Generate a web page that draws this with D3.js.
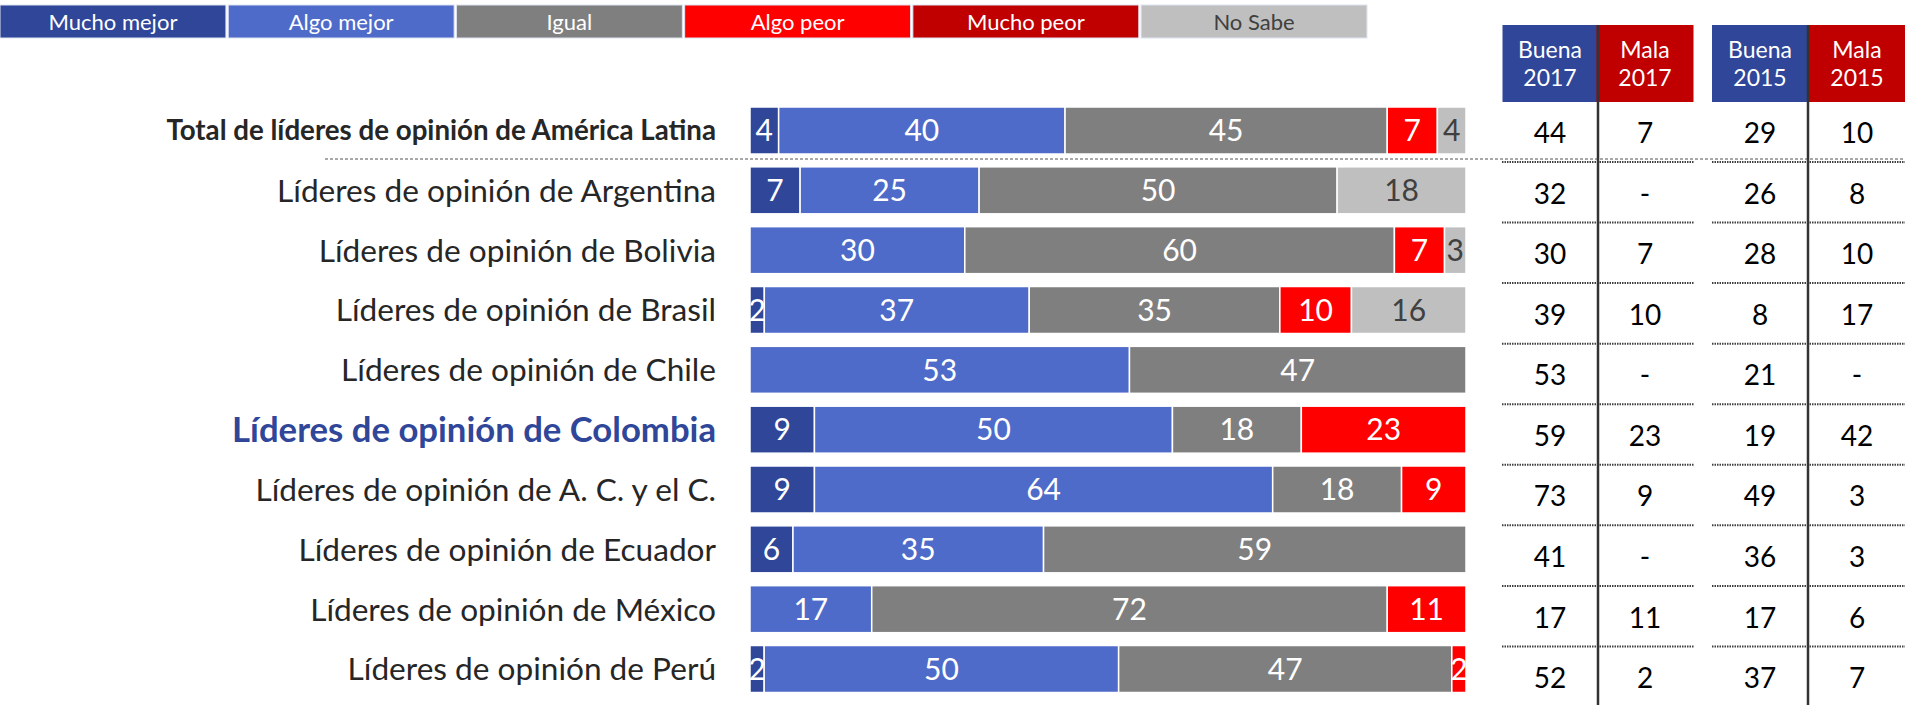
<!DOCTYPE html>
<html>
<head>
<meta charset="utf-8">
<script src="https://cdn.jsdelivr.net/npm/d3@7"></script>
<style>
  body { margin: 0; background: #fff; }
  svg text { font-family: Lato, "Open Sans", sans-serif; }
</style>
</head>
<body>
<div id="chart"></div>
<script>
// categories (rows)
var rows = [
  "Total de líderes de opinión de América Latina",
  "Líderes de opinión de Argentina",
  "Líderes de opinión de Bolivia",
  "Líderes de opinión de Brasil",
  "Líderes de opinión de Chile",
  "Líderes de opinión de Colombia",
  "Líderes de opinión de A. C. y el C.",
  "Líderes de opinión de Ecuador",
  "Líderes de opinión de México",
  "Líderes de opinión de Perú"
];

// series
var series = ["Mucho mejor", "Algo mejor", "Igual", "Algo peor", "Mucho peor", "No Sabe"];
var muchoMejor = [4, 7, 0, 2, 0, 9, 9, 6, 0, 2];
var algoMejor  = [40, 25, 30, 37, 53, 50, 64, 35, 17, 50];
var igual      = [45, 50, 60, 35, 47, 18, 18, 59, 72, 47];
var algoPeor   = [7, 0, 7, 10, 0, 23, 9, 0, 11, 2];
var muchoPeor  = [0, 0, 0, 0, 0, 0, 0, 0, 0, 0];
var noSabe     = [4, 18, 3, 16, 0, 0, 0, 0, 0, 0];

// side table
var tableHeads = [["Buena", "2017"], ["Mala", "2017"], ["Buena", "2015"], ["Mala", "2015"]];
var buena2017 = [44, 32, 30, 39, 53, 59, 73, 41, 17, 52];
var mala2017  = [7, "-", 7, 10, "-", 23, 9, "-", 11, 2];
var buena2015 = [29, 26, 28, 8, 21, 19, 49, 36, 17, 37];
var mala2015  = [10, 8, 10, 17, "-", 42, 3, 3, 6, 7];

var colors = {
  "Mucho mejor": "#2F4699",
  "Algo mejor": "#4F6BC9",
  "Igual": "#7F7F7F",
  "Algo peor": "#FF0000",
  "Mucho peor": "#C00000",
  "No Sabe": "#BFBFBF"
};
var darkText = "#404040";

var width = 1905, height = 705;
var svg = d3.select("#chart").append("svg")
  .attr("width", width)
  .attr("height", height);

// ---- legend
var lx = d3.scaleBand().domain(series).range([0, 1367]).paddingInner(0.01);
var leg = svg.append("g").selectAll("g")
  .data(series).enter().append("g")
  .attr("transform", function(d) { return "translate(" + lx(d) + ",5)"; });
leg.append("rect")
  .attr("width", lx.bandwidth())
  .attr("height", 33)
  .attr("fill", function(d) { return colors[d]; })
  .attr("stroke", "#dfe4f2")
  .attr("stroke-width", 1);
leg.append("text")
  .attr("x", lx.bandwidth() / 2)
  .attr("y", 17)
  .attr("dy", "0.35em")
  .attr("text-anchor", "middle")
  .style("font-size", "22px")
  .attr("fill", function(d) { return d == "No Sabe" ? darkText : "#fff"; })
  .text(function(d) { return d; });

// ---- stacked bars (100%)
var values = [muchoMejor, algoMejor, igual, algoPeor, muchoPeor, noSabe];
var data = rows.map(function(r, i) {
  var o = { row: r };
  series.forEach(function(s, k) { o[s] = values[k][i]; });
  return o;
});

var stack = d3.stack().keys(series).offset(d3.stackOffsetExpand);
var layers = stack(data);

var x = d3.scaleLinear().domain([0, 1]).range([750, 1466]);
var y = d3.scalePoint().domain(rows).range([130.5, 669]);
var barH = 47;

var layer = svg.append("g").selectAll("g")
  .data(layers).enter().append("g")
  .attr("fill", function(d) { return colors[d.key]; });

layer.selectAll("rect")
  .data(function(d) { return d.map(function(p) { p.key = d.key; return p; }); })
  .enter().filter(function(p) { return p.data[p.key] > 0; })
  .append("rect")
  .attr("x", function(p) { return x(p[0]); })
  .attr("y", function(p) { return y(p.data.row) - barH / 2; })
  .attr("width", function(p) { return x(p[1]) - x(p[0]); })
  .attr("height", barH)
  .attr("stroke", "#fff")
  .attr("stroke-width", 1.5);

layer.selectAll("text")
  .data(function(d) { return d.filter(function(p) { return p.data[d.key] > 0; }); })
  .enter().append("text")
  .attr("x", function(p) { return (x(p[0]) + x(p[1])) / 2; })
  .attr("y", function(p) { return y(p.data.row); })
  .attr("dy", "0.36em")
  .attr("text-anchor", "middle")
  .style("font-size", "30px")
  .attr("fill", function(p) { return p.key == "No Sabe" ? darkText : "#fff"; })
  .text(function(p) { return p.data[p.key]; });

// ---- row labels
svg.append("g").selectAll("text")
  .data(rows).enter().append("text")
  .attr("x", 716)
  .attr("y", function(d) { return y(d); })
  .attr("dy", "0.36em")
  .attr("text-anchor", "end")
  .style("font-size", function(d, i) { return i == 0 ? "27.7px" : (i == 5 ? "34.7px" : "31.6px"); })
  .style("font-weight", function(d, i) { return (i == 0 || i == 5) ? "bold" : "normal"; })
  .attr("fill", function(d, i) { return i == 5 ? "#2F4699" : "#262626"; })
  .text(function(d) { return d; });

// dotted separator under the total row
svg.append("line")
  .attr("x1", 325).attr("x2", 1905)
  .attr("y1", 159).attr("y2", 159)
  .attr("stroke", "#8c8c8c")
  .attr("stroke-width", 1.5)
  .attr("stroke-dasharray", "3,2");

// ---- table
var colX = [1550, 1645, 1760, 1857];
var colW = [95, 97, 96, 96];
var cols = [buena2017, mala2017, buena2015, mala2015];
var ty = d3.scalePoint().domain(rows).range([133, 678]);

var head = svg.append("g").selectAll("g")
  .data(tableHeads).enter().append("g");
head.append("rect")
  .attr("x", function(d, i) { return colX[i] - colW[i] / 2; })
  .attr("y", 25)
  .attr("width", function(d, i) { return colW[i]; })
  .attr("height", 77)
  .attr("fill", function(d) { return d[0] == "Buena" ? "#2F4699" : "#C00000"; });
head.append("text")
  .attr("x", function(d, i) { return colX[i]; })
  .attr("y", 50)
  .attr("dy", "0.35em")
  .attr("text-anchor", "middle")
  .attr("fill", "#fff")
  .style("font-size", "23px")
  .text(function(d) { return d[0]; });
head.append("text")
  .attr("x", function(d, i) { return colX[i]; })
  .attr("y", 78)
  .attr("dy", "0.35em")
  .attr("text-anchor", "middle")
  .attr("fill", "#fff")
  .style("font-size", "23px")
  .text(function(d) { return d[1]; });

// row separators under each table block
var sepRows = rows.slice(0, rows.length - 1);
[[1502, 1694], [1712, 1905]].forEach(function(seg) {
  svg.append("g").selectAll("line")
    .data(sepRows).enter().append("line")
    .attr("x1", seg[0]).attr("x2", seg[1])
    .attr("y1", function(d) { return ty(d) + 29; })
    .attr("y2", function(d) { return ty(d) + 29; })
    .attr("stroke", "#404040")
    .attr("stroke-width", 2)
    .attr("stroke-dasharray", "1.5,1");
});

cols.forEach(function(c, k) {
  svg.append("g").selectAll("text")
    .data(c).enter().append("text")
    .attr("x", colX[k])
    .attr("y", function(d, i) { return ty(rows[i]); })
    .attr("dy", "0.36em")
    .attr("text-anchor", "middle")
    .attr("fill", "#000")
    .style("font-size", "28px")
    .text(function(d) { return d; });
});

// vertical dividers
[1598, 1808].forEach(function(vx) {
  svg.append("line")
    .attr("x1", vx).attr("x2", vx)
    .attr("y1", 25).attr("y2", height)
    .attr("stroke", "#333")
    .attr("stroke-width", 2.5);
});
</script>
</body>
</html>
